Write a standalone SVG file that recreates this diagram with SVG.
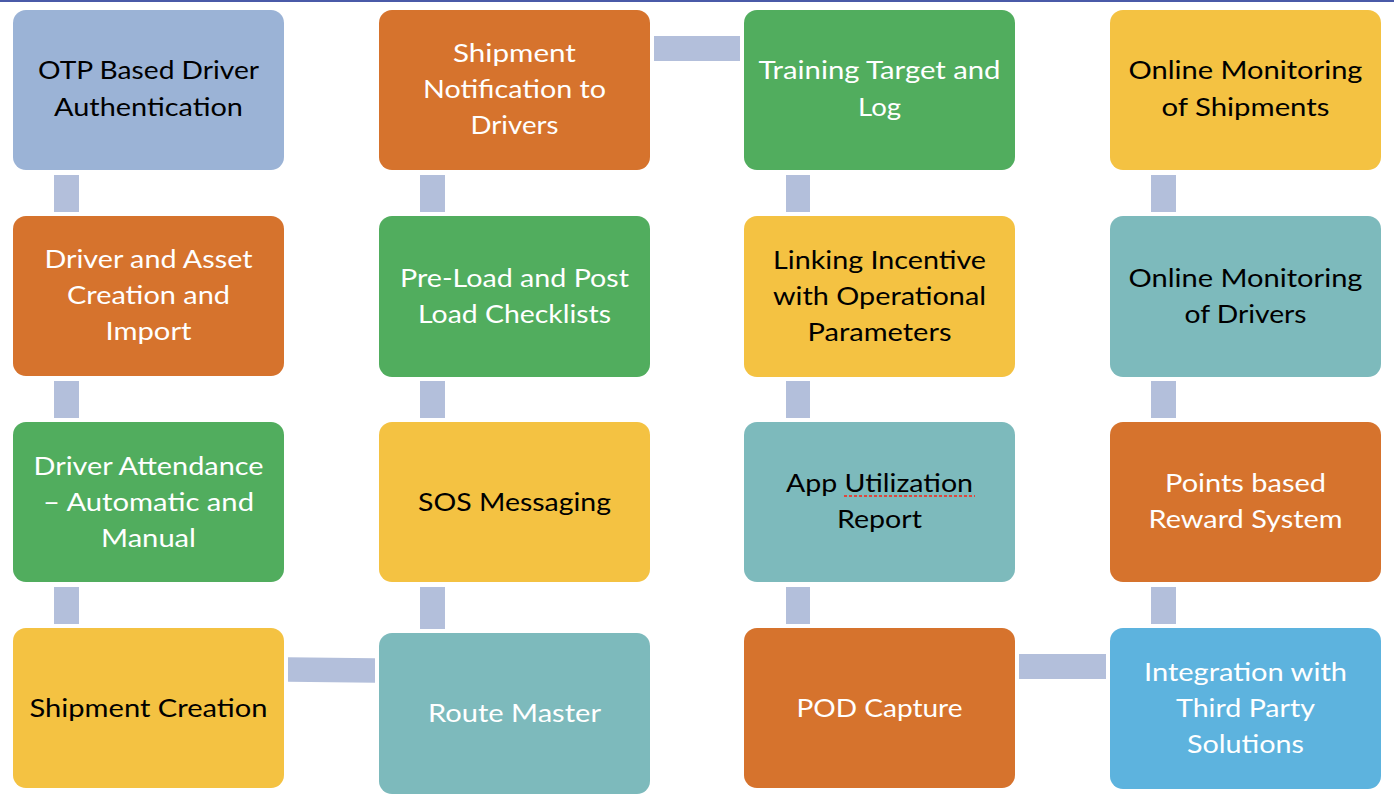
<svg xmlns="http://www.w3.org/2000/svg" width="1394" height="804" viewBox="0 0 1394 804">
<style>
.box{stroke:none}
.bg{fill:#9bb3d6}.or{fill:#d6732d}.gr{fill:#51ad5e}.ye{fill:#f4c242}.te{fill:#7dbabc}.lb{fill:#5db3de}
.conn{fill:#b3bfdb}
text{font-family:Lato,"Noto Sans","Liberation Sans",sans-serif;font-size:25px;text-anchor:middle}
.w{fill:#ffffff}.k{fill:#000000}
</style>
<rect x="0" y="0" width="1394" height="804" fill="#ffffff"/>
<rect x="0" y="0" width="1394" height="2" fill="#4a5aa8"/>
<g id="connectors">
<rect class="conn" x="54" y="175" width="25" height="37"/>
<rect class="conn" x="54" y="381" width="25" height="37"/>
<rect class="conn" x="54" y="587" width="25" height="37"/>
<polygon class="conn" points="288,657.3 375,658.3 375,682.7 288,681.7"/>
<rect class="conn" x="420" y="587" width="25" height="42"/>
<rect class="conn" x="420" y="381" width="25" height="37"/>
<rect class="conn" x="420" y="175" width="25" height="37"/>
<rect class="conn" x="654" y="36" width="86" height="25"/>
<rect class="conn" x="786" y="175" width="24" height="37"/>
<rect class="conn" x="786" y="381" width="24" height="37"/>
<rect class="conn" x="786" y="587" width="24" height="37"/>
<rect class="conn" x="1019" y="654" width="87" height="25"/>
<rect class="conn" x="1151" y="587" width="25" height="37"/>
<rect class="conn" x="1151" y="381" width="25" height="37"/>
<rect class="conn" x="1151" y="175" width="25" height="37"/>
</g>
<g id="n-otp"><rect class="box bg" x="13" y="10" width="271" height="160" rx="13"/>
<text class="k" x="148.5" y="79" textLength="221" lengthAdjust="spacingAndGlyphs">OTP Based Driver</text>
<text class="k" x="148.5" y="116" textLength="189" lengthAdjust="spacingAndGlyphs">Authentication</text></g>
<g id="n-asset"><rect class="box or" x="13" y="216" width="271" height="160" rx="13"/>
<text class="w" x="148.5" y="268" textLength="208" lengthAdjust="spacingAndGlyphs">Driver and Asset</text>
<text class="w" x="148.5" y="304" textLength="163" lengthAdjust="spacingAndGlyphs">Creation and</text>
<text class="w" x="148.5" y="340" textLength="86" lengthAdjust="spacingAndGlyphs">Import</text></g>
<g id="n-attendance"><rect class="box gr" x="13" y="422" width="271" height="160" rx="13"/>
<text class="w" x="148.5" y="475" textLength="230" lengthAdjust="spacingAndGlyphs">Driver Attendance</text>
<text class="w" x="148.5" y="511" textLength="211" lengthAdjust="spacingAndGlyphs">– Automatic and</text>
<text class="w" x="148.5" y="547" textLength="95" lengthAdjust="spacingAndGlyphs">Manual</text></g>
<g id="n-shipcreate"><rect class="box ye" x="13" y="628" width="271" height="160" rx="13"/>
<text class="k" x="148.5" y="717" textLength="238" lengthAdjust="spacingAndGlyphs">Shipment Creation</text></g>
<g id="n-notify"><rect class="box or" x="379" y="10" width="271" height="160" rx="13"/>
<text class="w" x="514.5" y="62" textLength="123" lengthAdjust="spacingAndGlyphs">Shipment</text>
<text class="w" x="514.5" y="98" textLength="183" lengthAdjust="spacingAndGlyphs">Notification to</text>
<text class="w" x="514.5" y="134" textLength="88" lengthAdjust="spacingAndGlyphs">Drivers</text></g>
<g id="n-checklists"><rect class="box gr" x="379" y="216" width="271" height="161" rx="13"/>
<text class="w" x="514.5" y="287" textLength="229" lengthAdjust="spacingAndGlyphs">Pre-Load and Post</text>
<text class="w" x="514.5" y="323" textLength="193" lengthAdjust="spacingAndGlyphs">Load Checklists</text></g>
<g id="n-sos"><rect class="box ye" x="379" y="422" width="271" height="160" rx="13"/>
<text class="k" x="514.5" y="511" textLength="193" lengthAdjust="spacingAndGlyphs">SOS Messaging</text></g>
<g id="n-route"><rect class="box te" x="379" y="633" width="271" height="161" rx="13"/>
<text class="w" x="514.5" y="722" textLength="173" lengthAdjust="spacingAndGlyphs">Route Master</text></g>
<g id="n-training"><rect class="box gr" x="744" y="10" width="271" height="160" rx="13"/>
<text class="w" x="879.5" y="79" textLength="242" lengthAdjust="spacingAndGlyphs">Training Target and</text>
<text class="w" x="879.5" y="116" textLength="43" lengthAdjust="spacingAndGlyphs">Log</text></g>
<g id="n-incentive"><rect class="box ye" x="744" y="216" width="271" height="161" rx="13"/>
<text class="k" x="879.5" y="269" textLength="213" lengthAdjust="spacingAndGlyphs">Linking Incentive</text>
<text class="k" x="879.5" y="305" textLength="213" lengthAdjust="spacingAndGlyphs">with Operational</text>
<text class="k" x="879.5" y="341" textLength="144" lengthAdjust="spacingAndGlyphs">Parameters</text></g>
<g id="n-app"><rect class="box te" x="744" y="422" width="271" height="160" rx="13"/>
<text class="k" x="879.5" y="492" textLength="187" lengthAdjust="spacingAndGlyphs">App Utilization</text>
<line x1="844" y1="496" x2="975" y2="496" stroke="#e0473c" stroke-width="2" stroke-dasharray="3,2"/>
<text class="k" x="879.5" y="528" textLength="85" lengthAdjust="spacingAndGlyphs">Report</text></g>
<g id="n-pod"><rect class="box or" x="744" y="628" width="271" height="160" rx="13"/>
<text class="w" x="879.5" y="717" textLength="166" lengthAdjust="spacingAndGlyphs">POD Capture</text></g>
<g id="n-monship"><rect class="box ye" x="1110" y="10" width="271" height="160" rx="13"/>
<text class="k" x="1245.5" y="79" textLength="234" lengthAdjust="spacingAndGlyphs">Online Monitoring</text>
<text class="k" x="1245.5" y="116" textLength="168" lengthAdjust="spacingAndGlyphs">of Shipments</text></g>
<g id="n-mondriver"><rect class="box te" x="1110" y="216" width="271" height="161" rx="13"/>
<text class="k" x="1245.5" y="287" textLength="234" lengthAdjust="spacingAndGlyphs">Online Monitoring</text>
<text class="k" x="1245.5" y="323" textLength="122" lengthAdjust="spacingAndGlyphs">of Drivers</text></g>
<g id="n-points"><rect class="box or" x="1110" y="422" width="271" height="160" rx="13"/>
<text class="w" x="1245.5" y="492" textLength="161" lengthAdjust="spacingAndGlyphs">Points based</text>
<text class="w" x="1245.5" y="528" textLength="194" lengthAdjust="spacingAndGlyphs">Reward System</text></g>
<g id="n-integration"><rect class="box lb" x="1110" y="628" width="271" height="161" rx="13"/>
<text class="w" x="1245.5" y="681" textLength="203" lengthAdjust="spacingAndGlyphs">Integration with</text>
<text class="w" x="1245.5" y="717" textLength="139" lengthAdjust="spacingAndGlyphs">Third Party</text>
<text class="w" x="1245.5" y="753" textLength="117" lengthAdjust="spacingAndGlyphs">Solutions</text></g>
</svg>
